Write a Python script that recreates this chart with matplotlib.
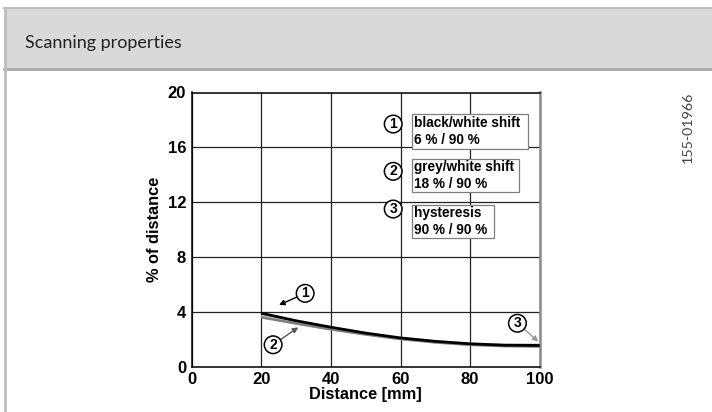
import matplotlib.pyplot as plt
from matplotlib.patches import Rectangle
from matplotlib.lines import Line2D

# Daten
dist = [20, 30, 40, 50, 60, 70, 80, 90, 100]
bw_shift = [3.9, 3.35, 2.88, 2.45, 2.1, 1.85, 1.67, 1.57, 1.55]
grey_shift = [3.6, 3.15, 2.72, 2.35, 2.02, 1.78, 1.6, 1.5, 1.47]
hyst = [3.7, 3.22, 2.78, 2.4, 2.05, 1.8, 1.63, 1.55, 1.58]
legend_labels = [("black/white shift", "6 % / 90 %"),
                 ("grey/white shift", "18 % / 90 %"),
                 ("hysteresis", "90 % / 90 %")]
xticks = [0, 20, 40, 60, 80, 100]
yticks = [0, 4, 8, 12, 16, 20]

W, H = 712, 412
fig = plt.figure(figsize=(W / 100, H / 100), dpi=100)

# Rahmen und Kopfzeile
fig.patches.append(Rectangle((4 / W, (H - 69) / H), (W - 4) / W, 61 / H,
                             transform=fig.transFigure, facecolor='#d9d9d9',
                             edgecolor='none', zorder=0))
fig.lines.append(Line2D([4 / W, 1], [(H - 8) / H] * 2, transform=fig.transFigure,
                        color='#bdbdbd', lw=1.5))
fig.lines.append(Line2D([4 / W, 1], [(H - 69) / H] * 2, transform=fig.transFigure,
                        color='#a8a8a8', lw=2))
fig.lines.append(Line2D([5 / W] * 2, [0, (H - 8) / H], transform=fig.transFigure,
                        color='#bdbdbd', lw=2))
fig.text(25 / W, (H - 43) / H, "Scanning properties", family='Lato', fontsize=13,
         va='center', ha='left', color='#222222')
fig.text(688 / W, (H - 127) / H, "155-01966", family='Lato', fontsize=10.3,
         rotation=90, va='center', ha='center', color='#444444')

ax = fig.add_axes([191.7 / W, (H - 366.7) / H, 348 / W, 274.2 / H])
ax.set_xlim(0, 100)
ax.set_ylim(0, 20)
ax.set_xticks(xticks)
ax.set_yticks(yticks)
ax.tick_params(length=0, labelsize=12, pad=4)
for lab in ax.get_xticklabels() + ax.get_yticklabels():
    lab.set_fontweight('bold')
    lab.set_family('Liberation Sans')
ax.grid(True, color='#222222', lw=0.9)
ax.set_axisbelow(True)
for s in ['left', 'bottom', 'top']:
    ax.spines[s].set_color('black')
    ax.spines[s].set_linewidth(1.1)
ax.spines['right'].set_color('#8a8a8a')
ax.spines['right'].set_linewidth(1.8)

ax.set_xlabel("Distance [mm]", family='Liberation Sans', fontweight='bold',
              fontsize=11.8, labelpad=0)
ax.set_ylabel("% of distance", family='Liberation Sans', fontweight='bold',
              fontsize=11.8, labelpad=4)

ax.plot(dist, hyst, color='#c8c8c8', lw=2.5, solid_capstyle='butt', zorder=3)
ax.plot(dist, grey_shift, color='#7f7f7f', lw=1.8, solid_capstyle='butt', zorder=4)
ax.plot(dist, bw_shift, color='black', lw=2.0, solid_capstyle='butt', zorder=5)

circ = dict(boxstyle='circle,pad=0.13', fc='white', ec='black', lw=1.1)
fnt = dict(family='Liberation Sans', fontweight='bold', fontsize=10)

# Nummern mit Pfeilen an den Kurven
ax.annotate("1", xy=(25.1, 4.5), xytext=(32.6, 5.35), ha='center', va='center',
            bbox=circ, arrowprops=dict(arrowstyle='-|>', color='black', lw=1.0,
                                       mutation_scale=8, shrinkA=0, shrinkB=0),
            zorder=6, **fnt)
ax.annotate("2", xy=(30.6, 2.87), xytext=(23.4, 1.6), ha='center', va='center',
            bbox=circ, arrowprops=dict(arrowstyle='-|>', color='#555555', lw=1.0,
                                       mutation_scale=8, shrinkA=0, shrinkB=0),
            zorder=6, **fnt)
ax.annotate("3", xy=(99.6, 1.83), xytext=(93.6, 3.17), ha='center', va='center',
            bbox=circ, arrowprops=dict(arrowstyle='-|>', color='#999999', lw=1.0,
                                       mutation_scale=8, shrinkA=0, shrinkB=0),
            zorder=6, **fnt)

# Legende als Kästchen
circle_y = [17.7, 14.25, 11.5]
box_top = [114, 159, 205]
box_right = [528.3, 519, 494]
box_h = [35, 33, 33]
for i, (l1, l2) in enumerate(legend_labels):
    ax.text(57.9, circle_y[i], str(i + 1), ha='center', va='center', bbox=circ,
            zorder=6, **fnt)
    x0 = (411.7 - 191.7) / 3.48
    x1 = (box_right[i] - 191.7) / 3.48
    y1 = (366.7 - box_top[i]) / 13.71
    y0 = (366.7 - box_top[i] - box_h[i]) / 13.71
    ax.add_patch(Rectangle((x0, y0), x1 - x0, y1 - y0, fc='white', ec='#7f7f7f',
                           lw=0.9, zorder=5))
    ax.text(x0 + 0.6, (y0 + y1) / 2, l1 + "\n" + l2, ha='left', va='center',
            family='Liberation Sans', fontweight='bold', fontsize=9.8,
            linespacing=1.3, zorder=6)

fig.savefig("out.png", dpi=100)
